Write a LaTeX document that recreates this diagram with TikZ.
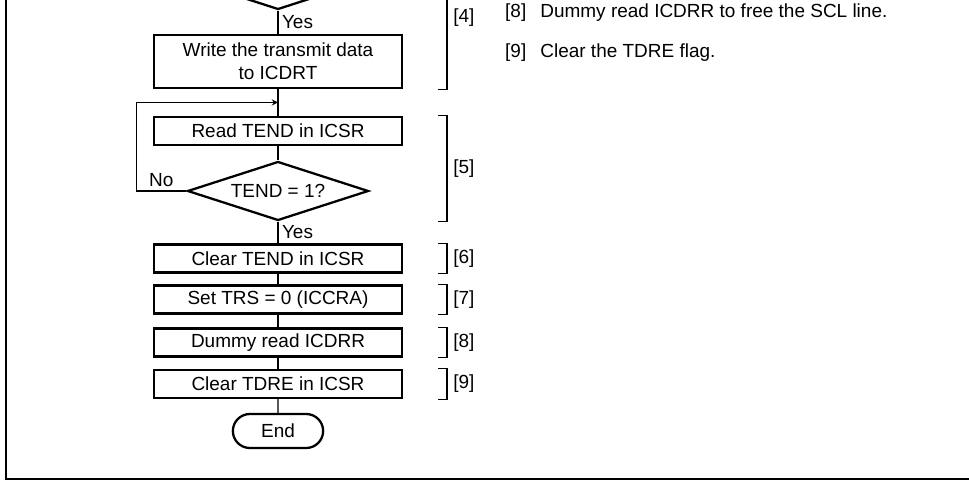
\documentclass[tikz,border=0pt]{standalone}
\usepackage{fontspec}
\setmainfont{Liberation Sans}
\usetikzlibrary{positioning,arrows,shapes,calc}

\begin{document}
\begin{tikzpicture}[
  proc/.style={rectangle,draw,line width=1.3pt,minimum width=4.96cm,minimum height=0.56cm,inner sep=1pt,align=center,font=\fontsize{10.8}{13}\selectfont},
  dec/.style={diamond,aspect=3.07,draw,line width=1.3pt,minimum width=3.62cm,minimum height=1.18cm,inner sep=0pt,font=\fontsize{10.8}{13}\selectfont},
  term/.style={rounded rectangle,draw,line width=1.3pt,minimum width=2.04cm,minimum height=0.68cm,font=\fontsize{10.8}{13}\selectfont},
  flow/.style={line width=0.6pt},
  loopback/.style={->,>=stealth,line width=0.6pt},
  brk/.style={line width=0.6pt},
  tag/.style={font=\fontsize{10.8}{13}\selectfont,right},
  yesno/.style={font=\fontsize{10.8}{13}\selectfont,inner sep=2pt},
  note/.style={font=\fontsize{10.8}{13}\selectfont,anchor=west},
  frame/.style={line width=1.4pt},
]
\useasboundingbox (0,0) rectangle (19.38,-9.62);
\clip (0,0) rectangle (19.38,-9.62);

% === Flow steps ===
\node[dec] (d4) at (5.56,0.40) {};
\node[proc,minimum height=1.06cm] (w4) at (5.56,-1.23) {Write the transmit data\\to ICDRT};
\node[proc] (r5) at (5.56,-2.62) {Read TEND in ICSR};
\node[dec] (d5) at (5.56,-3.82) {TEND = 1?};
\node[proc] (c6) at (5.56,-5.17) {Clear TEND in ICSR};
\node[proc] (s7) at (5.56,-5.99) {Set TRS = 0 (ICCRA)};
\node[proc] (r8) at (5.56,-6.85) {Dummy read ICDRR};
\node[proc] (c9) at (5.56,-7.68) {Clear TDRE in ICSR};
\node[term] (end) at (5.56,-8.62) {End};

% === Connectors ===
\coordinate (loopin) at ($(w4.south)!0.5!(r5.north)$);
\draw[flow] (d4) -- node[yesno,right] {Yes} (w4);
\draw[flow] (w4) -- (r5);
\draw[flow] (r5) -- (d5);
\draw[loopback] (d5.west) -- node[yesno,above] {No} ++(-1.0,0) |- (loopin);
\draw[flow] (d5) -- node[yesno,right] {Yes} (c6);
\draw[flow] (c6) -- (s7);
\draw[flow] (s7) -- (r8);
\draw[flow] (r8) -- (c9);
\draw[flow] (c9) -- (end);

% === Step brackets ===
\coordinate (bx) at (8.94,0);
\coordinate (tx) at (8.76,0);
\coordinate (b4top) at (8.94,1.08);
\draw[brk] (tx |- w4.south) -- (bx |- w4.south) -- node[tag] {[4]} (b4top);
\draw[brk] (tx |- r5.north) -- (bx |- r5.north) -- node[tag] {[5]} (bx |- d5.south) -- (tx |- d5.south);
\draw[brk] (tx |- c6.north) -- (bx |- c6.north) -- node[tag] {[6]} (bx |- c6.south) -- (tx |- c6.south);
\draw[brk] (tx |- s7.north) -- (bx |- s7.north) -- node[tag] {[7]} (bx |- s7.south) -- (tx |- s7.south);
\draw[brk] (tx |- r8.north) -- (bx |- r8.north) -- node[tag] {[8]} (bx |- r8.south) -- (tx |- r8.south);
\draw[brk] (tx |- c9.north) -- (bx |- c9.north) -- node[tag] {[9]} (bx |- c9.south) -- (tx |- c9.south);

% === Notes ===
\node[note] (n8) at (9.98,-0.26) {[8]\hspace{8pt}Dummy read ICDRR to free the SCL line.};
\node[note] (n9) at (9.98,-1.06) {[9]\hspace{8pt}Clear the TDRE flag.};

% === Frame ===
\draw[frame] (0.12,0.3) |- (19.6,-9.585);

\end{tikzpicture}
\end{document}
